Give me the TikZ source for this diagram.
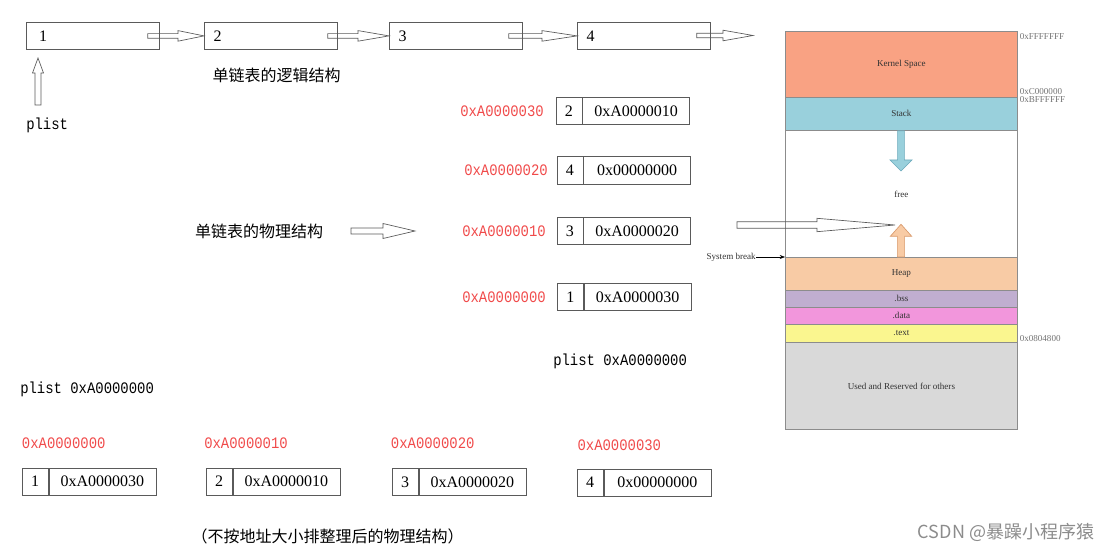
\documentclass[tikz,border=0pt]{standalone}
\usepackage{fontspec}
\setmainfont{Liberation Serif}
\newfontfamily\monof[FakeStretch=0.87]{Liberation Mono}
\newfontfamily\cjkf{Noto Sans CJK SC}
\usetikzlibrary{calc,arrows.meta}
\definecolor{labred}{HTML}{F04A4A}
\definecolor{boxgray}{HTML}{5A5A5A}
\definecolor{memgray}{HTML}{8C8C8C}
\definecolor{kernelc}{HTML}{F9A283}
\definecolor{stackc}{HTML}{99D0DC}
\definecolor{stackd}{HTML}{6AA9BB}
\definecolor{heapc}{HTML}{F8CBA5}
\definecolor{heapd}{HTML}{D99A6C}
\definecolor{bssc}{HTML}{C0AED0}
\definecolor{datac}{HTML}{F296DC}
\definecolor{textc}{HTML}{FAF68F}
\definecolor{usedc}{HTML}{D9D9D9}
% horizontal block arrow: opts, start, tip, shaft half, head length, head half
\newcommand\harr[6]{\draw[#1] ($(#2|-#3)+(0,#4)$) -- ($(#3)+(-#5,#4)$) -- ($(#3)+(-#5,#6)$) -- (#3) -- ($(#3)+(-#5,-#6)$) -- ($(#3)+(-#5,-#4)$) -- ($(#2|-#3)+(0,-#4)$) -- cycle;}
% vertical block arrow: opts, start, tip, shaft half, signed head length, head half
\newcommand\varr[6]{\draw[#1] ($(#2-|#3)+(#4,0)$) -- ($(#3)+(#4,#5)$) -- ($(#3)+(#6,#5)$) -- (#3) -- ($(#3)+(-#6,#5)$) -- ($(#3)+(-#4,#5)$) -- ($(#2-|#3)+(-#4,0)$) -- cycle;}
\tikzset{
  serif/.style={font=\fontsize{12}{14}\selectfont},
  mono/.style={font=\fontsize{12}{14}\selectfont\monof},
  cjk/.style={font=\fontsize{12}{14}\selectfont\cjkf},
  redlab/.style={mono, text=labred, anchor=west, inner sep=0},
  topbox/.style={draw=boxgray, line width=0.6pt, anchor=north west, serif,
    minimum height=20.25pt, inner ysep=0, inner xsep=7pt, text width=85.75pt, align=left},
  lcell/.style={draw=boxgray, line width=0.6pt, anchor=north west, serif,
    minimum width=19.5pt, minimum height=20.6pt, inner sep=0},
  rcell/.style={draw=boxgray, line width=0.6pt, anchor=north west, serif,
    minimum width=80.25pt, minimum height=20.6pt, inner sep=0},
  hollow/.style={draw=boxgray, line width=0.5pt, fill=white},
  band/.style={draw=memgray, line width=0.6pt, anchor=north west, minimum width=174pt,
    inner sep=0, font=\fontsize{6.8}{8}\selectfont, text=black!80},
  addr/.style={anchor=west, inner sep=0, font=\fontsize{6.8}{8}\selectfont, text=black!55},
}
\begin{document}
\begin{tikzpicture}[x=0.75pt,y=-0.75pt]
\useasboundingbox (0,0) rectangle (1116,552);

% ---------- logical structure ----------
\node[topbox, inner xsep=9.5pt, text width=80.75pt] (t1) at (26,22.5) {1};
\node[topbox] (t2) at (204,22) {2};
\node[topbox] (t3) at (389,22) {3};
\node[topbox] (t4) at (577,22) {4};
\coordinate (a12) at ($(t1.east)+(-12,0)$);
\coordinate (a23) at ($(t2.east)+(-10,0)$);
\coordinate (a34) at ($(t3.east)+(-14,0)$);
\coordinate (a4o) at ($(t4.east)+(-14,0)$);
\coordinate (tipo) at (753,35.5);
\harr{hollow, fill=none}{a12}{t2.west}{2.3}{26}{5.3}
\harr{hollow, fill=none}{a23}{t3.west}{2.3}{31}{5.3}
\harr{hollow, fill=none}{a34}{t4.west}{2.3}{35}{5.3}
\harr{hollow, fill=none}{a4o}{tipo}{2.3}{30}{5.3}

\node[mono, anchor=west, inner sep=0] (plist1) at (26,125) {plist};
\coordinate (pa) at (38,105);
\coordinate (pb) at (38,58);
\varr{hollow}{pa}{pb}{3}{15}{5.5}
\node[cjk, inner sep=0] (logic) at (276.5,75) {单链表的逻辑结构};

% ---------- physical structure ----------
\node[cjk, inner sep=0] (phys) at (259,231) {单链表的物理结构};
\coordinate (pha) at (351,231);
\coordinate (phb) at (415,231);
\harr{hollow}{pha}{phb}{3}{32}{7.5}

\node[redlab] (r1) at (460,111) {0xA0000030};
\node[lcell] (m1l) at (555.5,97) {2};
\node[rcell] (m1r) at (m1l.north east) {0xA0000010};
\node[redlab] (r2) at (464,170) {0xA0000020};
\node[lcell] (m2l) at (556.5,156.5) {4};
\node[rcell] (m2r) at (m2l.north east) {0x00000000};
\node[redlab] (r3) at (462,231) {0xA0000010};
\node[lcell] (m3l) at (556.5,217) {3};
\node[rcell] (m3r) at (m3l.north east) {0xA0000020};
\node[redlab] (r4) at (462,297) {0xA0000000};
\node[lcell] (m4l) at (557,283) {1};
\node[rcell] (m4r) at (m4l.north east) {0xA0000030};
\node[mono, anchor=west, inner sep=0] (plist2) at (553,361) {plist 0xA0000000};

% ---------- bottom row ----------
\node[mono, anchor=west, inner sep=0] (plist3) at (20,389) {plist 0xA0000000};
\node[redlab] (b1a) at (21.7,443) {0xA0000000};
\node[redlab] (b2a) at (204,443) {0xA0000010};
\node[redlab] (b3a) at (390.7,443.3) {0xA0000020};
\node[redlab] (b4a) at (577.3,445.7) {0xA0000030};
\node[lcell] (b1l) at (21.7,467.5) {1};
\node[rcell] (b1r) at (b1l.north east) {0xA0000030};
\node[lcell] (b2l) at (205.7,467.5) {2};
\node[rcell] (b2r) at (b2l.north east) {0xA0000010};
\node[lcell] (b3l) at (391.7,467.7) {3};
\node[rcell] (b3r) at (b3l.north east) {0xA0000020};
\node[lcell] (b4l) at (576.7,468.5) {4};
\node[rcell] (b4r) at (b4l.north east) {0x00000000};
\node[cjk, inner sep=0] (cap) at (327.5,536) {（不按地址大小排整理后的物理结构）};

% ---------- memory layout ----------
\node[band, fill=kernelc, minimum height=49.5pt] (kern) at (785,31) {Kernel Space};
\node[band, fill=stackc, minimum height=24.75pt] (stack) at (785,97) {Stack};
\node[band, fill=white, minimum height=95.25pt] (free) at (785,130) {free};
\node[band, fill=heapc, minimum height=24.75pt] (heap) at (785,257) {Heap};
\node[band, fill=bssc, minimum height=12.75pt] (bss) at (785,290) {.bss};
\node[band, fill=datac, minimum height=12.75pt] (data) at (785,307) {.data};
\node[band, fill=textc, minimum height=13.5pt] (text) at (785,324) {.text};
\node[band, fill=usedc, minimum height=65.25pt] (used) at (785,342) {Used and Reserved for others};

\node[addr] (ad1) at (1019.5,37) {0xFFFFFFF};
\node[addr] (ad2) at (1019.5,92) {0xC000000};
\node[addr] (ad3) at (1019.5,100) {0xBFFFFFF};
\node[addr] (ad4) at (1019.5,339) {0x0804800};

\coordinate (sdown) at (901,171);
\varr{draw=stackd, fill=stackc, line width=0.5pt}{stack.south}{sdown}{3.4}{-11}{11}
\coordinate (hup) at (901,224.3);
\varr{draw=heapd, fill=heapc, line width=0.5pt}{heap.north}{hup}{3.6}{12}{10.7}

\node[anchor=east, inner sep=0, font=\fontsize{6.8}{8}\selectfont, text=black!80] (sb) at (756,257) {System break};
\draw[line width=0.4pt, -{Stealth[length=4pt,width=3pt]}] (sb.east) -- (heap.north west);

\coordinate (ba) at (737,225);
\coordinate (bb) at (895,225);
\harr{hollow, fill=none}{ba}{bb}{3.3}{78}{6.7}

% watermark
\node[inner sep=0, font=\fontsize{13.5}{15}\selectfont\cjkf, text=black!45] (wm) at (1006,532) {CSDN @暴躁小程序猿};
\end{tikzpicture}
\end{document}
